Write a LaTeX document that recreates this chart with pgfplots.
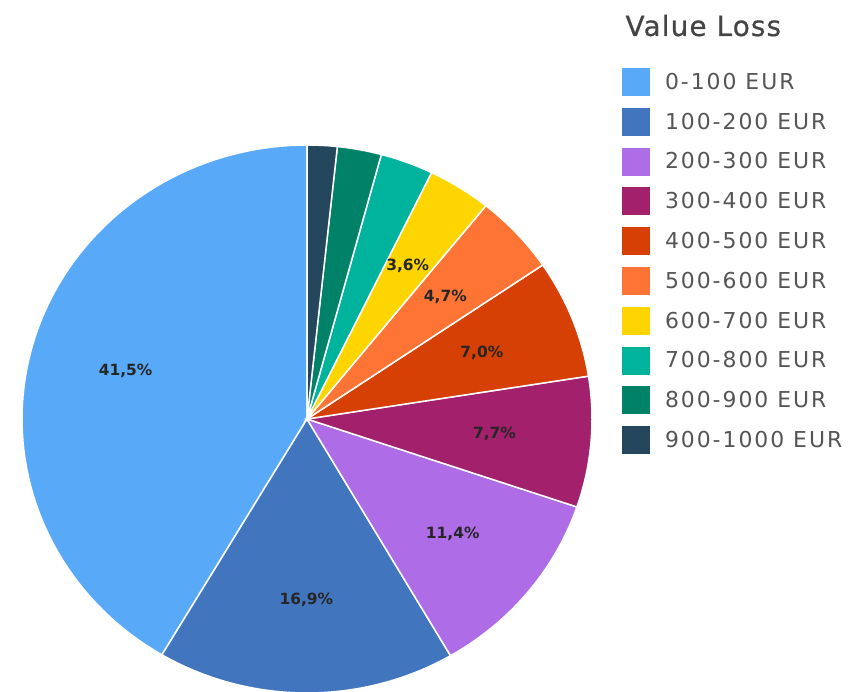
\documentclass[border=0pt]{standalone}
\usepackage{fontspec}
\setmainfont{DejaVu Sans}
\newfontfamily\legfont[LetterSpace=9]{DejaVu Sans}
\newfontfamily\titlefont[LetterSpace=4,FakeBold=0.6]{DejaVu Sans}
\usepackage{pgfplots}
\usepackage{pgfplotstable}
\pgfplotsset{compat=1.18}
\definecolor{c1}{RGB}{88,169,247}
\definecolor{c2}{RGB}{65,118,191}
\definecolor{c3}{RGB}{174,108,230}
\definecolor{c4}{RGB}{163,32,108}
\definecolor{c5}{RGB}{214,64,5}
\definecolor{c6}{RGB}{254,116,52}
\definecolor{c7}{RGB}{255,213,0}
\definecolor{c8}{RGB}{0,179,157}
\definecolor{c9}{RGB}{0,130,104}
\definecolor{c10}{RGB}{36,71,93}
\definecolor{legtext}{RGB}{85,85,85}
\definecolor{titletext}{RGB}{68,68,68}
\pgfplotstableread[col sep=comma]{
label,value,color
0-100 EUR,41.5,c1
100-200 EUR,16.9,c2
200-300 EUR,11.4,c3
300-400 EUR,7.7,c4
400-500 EUR,7.0,c5
500-600 EUR,4.7,c6
600-700 EUR,3.6,c7
700-800 EUR,3.0,c8
800-900 EUR,2.5,c9
900-1000 EUR,1.7,c10
}\datatable
\def\cx{307}\def\cy{273}\def\rx{285}\def\ry{274}
\begin{document}
\begin{tikzpicture}
\begin{axis}[
  scale only axis, width=851bp, height=692bp,
  xmin=0, xmax=851, ymin=0, ymax=692,
  hide axis, clip=false,
  legend style={at={(axis cs:622,624)}, anchor=north west, draw=none, fill=none,
    inner sep=0pt, outer sep=0pt, row sep=11.8bp, column sep=15bp,
    font=\legfont\fontsize{22}{25}\selectfont\color{legtext},
    nodes={inner sep=0pt, outer sep=0pt}},
  legend cell align=left,
  legend image code/.code={\fill[#1,draw=none] (0bp,-14bp) rectangle (28bp,14bp);},
]
\pgfplotstablegetrowsof{\datatable}
\pgfmathtruncatemacro\N{\pgfplotsretval-1}
\def\cum{0}
\pgfplotsforeachungrouped \i in {0,...,\N} {
  \pgfplotstablegetelem{\i}{value}\of\datatable \let\v\pgfplotsretval
  \pgfplotstablegetelem{\i}{color}\of\datatable \let\c\pgfplotsretval
  \pgfplotstablegetelem{\i}{label}\of\datatable \let\l\pgfplotsretval
  \pgfmathsetmacro\a{90+3.6*\cum}
  \pgfmathsetmacro\b{90+3.6*(\cum+\v)}
  \edef\temp{\noexpand\addplot[fill=\c, draw=white, line width=1.5bp, domain=\a:\b, samples=80]
    ({\cx+\rx*cos(x)},{\cy+\ry*sin(x)}) -- (axis cs:\cx,\cy) -- cycle;
    \noexpand\addlegendentry{\l}}
  \temp
  \pgfmathsetmacro\cum{\cum+\v}
}
\def\cum{0}
\pgfplotsforeachungrouped \i in {0,...,\N} {
  \pgfplotstablegetelem{\i}{value}\of\datatable \let\v\pgfplotsretval
  \pgfmathsetmacro\m{90+3.6*(\cum+\v/2)}
  \pgfmathsetmacro\lx{\cx+0.66*\rx*cos(\m)}
  \pgfmathsetmacro\ly{\cy+0.66*\ry*sin(\m)}
  \pgfmathparse{\v>3.3 ? 1 : 0}
  \ifnum\pgfmathresult=1
    \edef\temp{\noexpand\node[font=\noexpand\bfseries\noexpand\fontsize{15.5}{18}\noexpand\selectfont, text=black!85] at (axis cs:\lx,\ly)
      {\noexpand\pgfmathprintnumber[fixed,fixed zerofill,precision=1,use comma,assume math mode=true]{\v}\noexpand\%};}
    \temp
  \fi
  \pgfmathsetmacro\cum{\cum+\v}
}
\node[anchor=base west, font=\titlefont\fontsize{28}{32}\selectfont, text=titletext] at (axis cs:622,656) {Value Loss};
\end{axis}
\pgfresetboundingbox
\path (current axis.south west) rectangle (current axis.north east);
\end{tikzpicture}
\end{document}
